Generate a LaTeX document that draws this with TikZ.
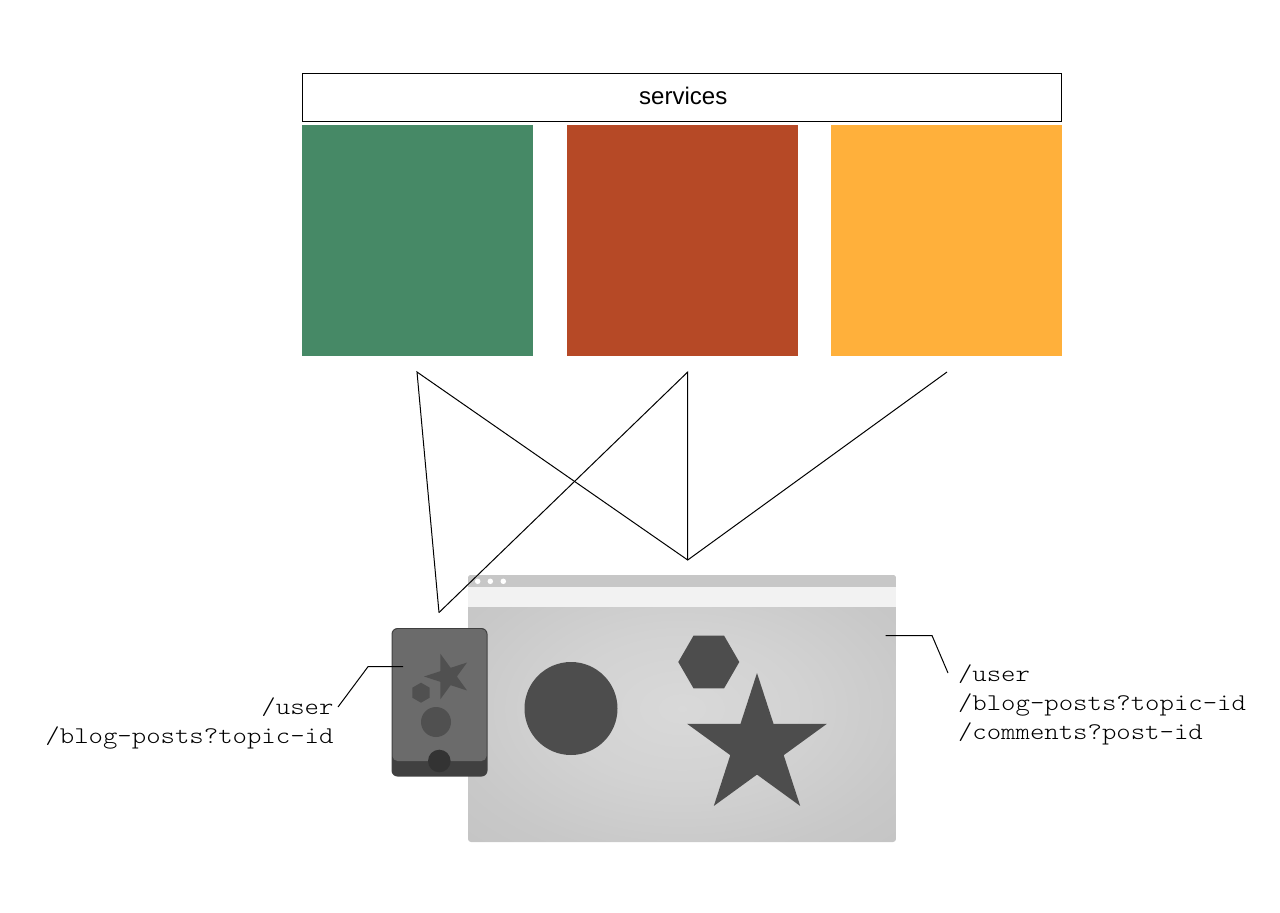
\documentclass[tikz,border=0pt]{standalone}
\usepackage{fontspec}
\setmainfont{Liberation Sans}
\setmonofont[FakeStretch=1.143]{Latin Modern Mono Light}
\usetikzlibrary{shapes.geometric}
\definecolor{svcgreen}{HTML}{468966}
\definecolor{svcred}{HTML}{B64926}
\definecolor{svcorange}{HTML}{FFB03B}
\definecolor{shapegray}{HTML}{4D4D4D}
\definecolor{phonegray}{HTML}{505050}
\pgfdeclareradialshading{pageglow}{\pgfpoint{0bp}{0bp}}{%
  rgb(0bp)=(0.85,0.85,0.85);
  rgb(14bp)=(0.825,0.825,0.825);
  rgb(28bp)=(0.785,0.785,0.785);
  rgb(42bp)=(0.76,0.76,0.76);
  rgb(50bp)=(0.76,0.76,0.76)}
\tikzset{
  block/.style={rectangle,inner sep=0,outer sep=0,anchor=north west},
  glyph/.style={inner sep=0,outer sep=0,fill=#1},
  link/.style={line width=1pt,line join=miter},
  pathlist/.style={font=\ttfamily\fontsize{24}{29}\selectfont,inner sep=0,outer sep=0},
}
\begin{document}
\begin{tikzpicture}[x=1pt,y=-1pt]
  \useasboundingbox (0,0) rectangle (1280,913);

  \node[block,draw=black,line width=1pt,minimum width=759.5pt,minimum height=47.5pt,font=\fontsize{24}{28}\selectfont] (services) at (302,73.5) {\hspace*{3pt}\raisebox{2.5pt}{services}};
  \foreach[count=\i] \x/\c in {302/svcgreen,567/svcred,831.3/svcorange} {
    \node[block,fill=\c,minimum width=230.5pt,minimum height=230.5pt] (box\i) at (\x,125) {};
  }

  % browser window
  \begin{scope}
    \clip[rounded corners=3pt] (468,575) rectangle (896,842);
    \node[block,minimum width=428pt,minimum height=267pt,shading=pageglow] (page) at (468,575) {};
    \node[block,fill=black!22,minimum width=428pt,minimum height=12pt] (titlebar) at (468,575) {};
    \node[block,fill=black!5,minimum width=428pt,minimum height=19.5pt] (addressbar) at (468,587) {};
  \end{scope}
  \foreach[count=\i] \x in {477.7,490.3,503.3} {
    \node[circle,glyph=white,minimum size=5.5pt] (dot\i) at (\x,581.3) {};
  }
  \node[circle,glyph=shapegray,minimum size=93pt] (bigcircle) at (571,708.5) {};
  \node[regular polygon,regular polygon sides=6,glyph=shapegray,minimum size=61pt] (bighex) at (708.8,662) {};
  \node[star,star points=5,star point ratio=2.618,glyph=shapegray,minimum size=147pt] (bigstar) at (757,746.5) {};

  % phone
  \fill[black!75,rounded corners=6pt] (391.5,628) rectangle (487.5,776.5);
  \fill[black!58,rounded corners=5pt] (392.5,629) rectangle (486.5,761);
  \node[star,star points=5,star point ratio=2.618,shape border rotate=90,glyph=phonegray,minimum size=47.6pt] (smallstar) at (447.8,676.5) {};
  \node[regular polygon,regular polygon sides=6,shape border rotate=30,glyph=phonegray,minimum size=20pt] (smallhex) at (421,692.7) {};
  \node[circle,glyph=phonegray,minimum size=30pt] (smallcircle) at (436,722) {};
  \node[circle,glyph=black!80,minimum size=22.6pt] (homebutton) at (439.3,761) {};

  % request fan
  \coordinate (greenend) at (417,372);
  \coordinate (redend) at (687.7,372);
  \coordinate (orangeend) at (947,372);
  \coordinate (webend) at (687.7,560);
  \coordinate (mobileend) at (439,612.5);
  \draw[link] (mobileend) -- (greenend) -- (webend) -- (orangeend);
  \draw[link] (mobileend) -- (redend) -- (webend);

  % path lists
  \node[pathlist,anchor=north east,align=right] (mobilepaths) at (333.5,698) {/user\\/blog-posts?topic-id};
  \node[pathlist,anchor=north west,align=left] (webpaths) at (958,665) {/user\\/blog-posts?topic-id\\/comments?post-id};
  \coordinate (mobiletag) at (403,666.7);
  \coordinate (mobilebend) at (368,666.7);
  \coordinate (mobilefoot) at (338,707);
  \coordinate (webtag) at (885.5,635.5);
  \coordinate (webbend) at (932,635.5);
  \coordinate (webfoot) at (948,673);
  \draw[link] (mobiletag) -- (mobilebend) -- (mobilefoot);
  \draw[link] (webtag) -- (webbend) -- (webfoot);
\end{tikzpicture}
\end{document}
